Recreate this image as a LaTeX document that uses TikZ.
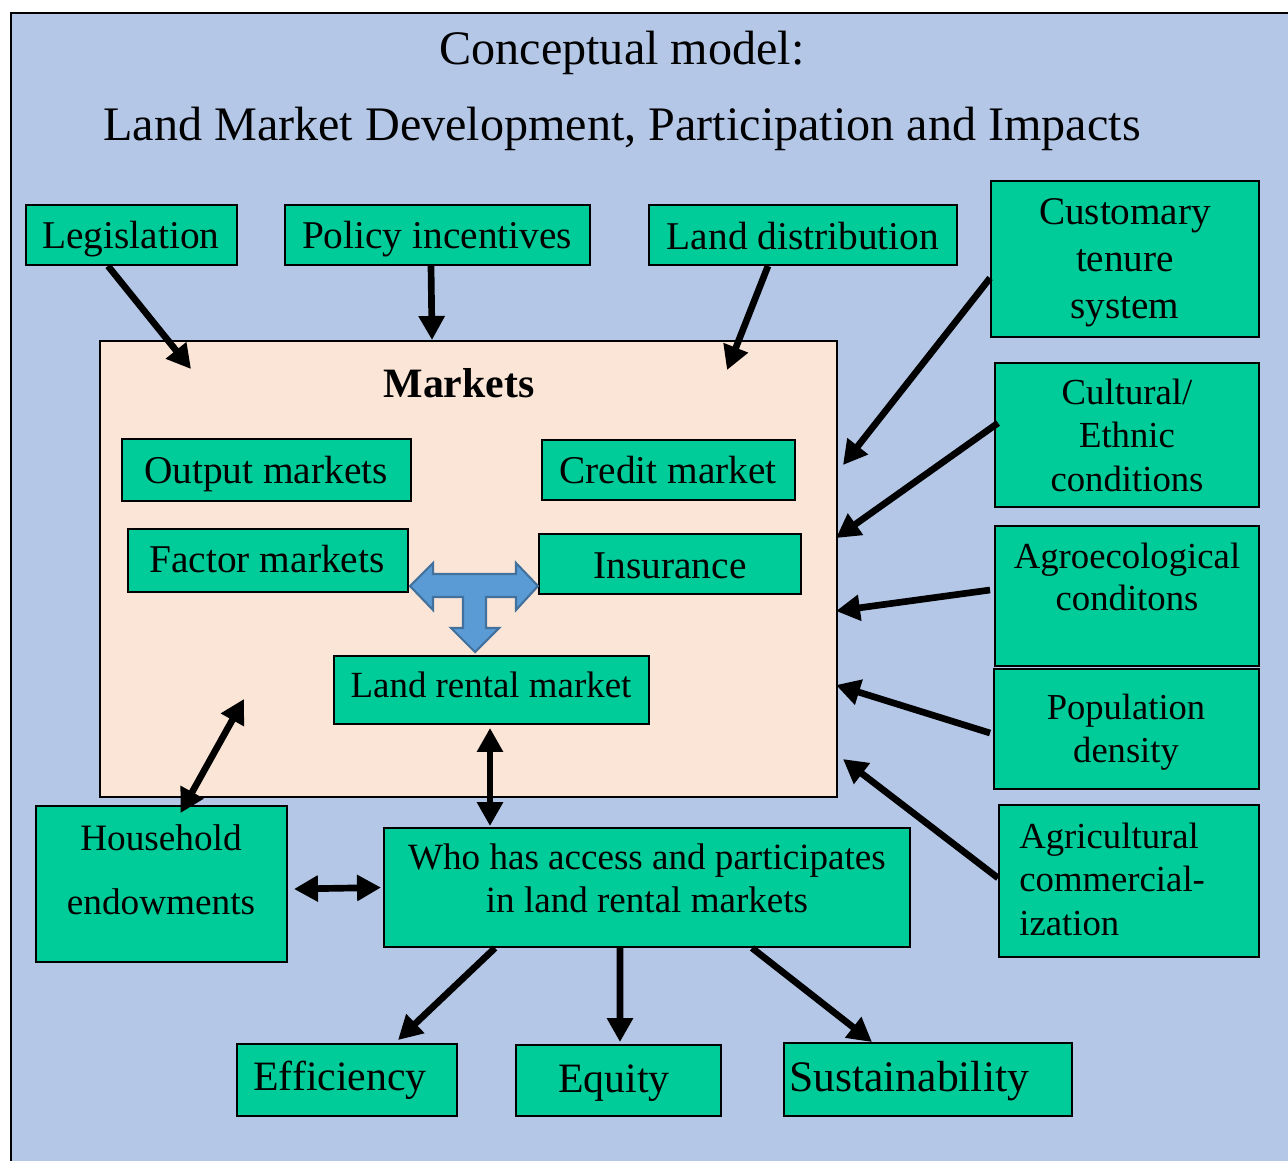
\documentclass[tikz,border=0pt]{standalone}
\usepackage{fontspec}
\setmainfont{Liberation Serif}
\usetikzlibrary{arrows.meta,calc,fit}
\definecolor{bgblue}{HTML}{B4C7E7}
\definecolor{boxgreen}{HTML}{00CC99}
\definecolor{peach}{HTML}{FBE5D6}
\definecolor{tblue}{HTML}{5B9BD5}
\definecolor{tedge}{HTML}{41719C}
\newcommand\fsz[1]{\fontsize{#1}{#1}\selectfont}
\begin{document}
\begin{tikzpicture}[x=0.02cm,y=-0.02cm,
  box/.style={draw=black, fill=boxgreen, line width=1.1pt, inner sep=0pt},
  mbox/.style={draw=black, fill=peach, line width=1.1pt, inner sep=0pt},
  lbl/.style={anchor=base, inner sep=0pt, text=black},
  lblw/.style={anchor=base west, inner sep=0pt, text=black},
  arr/.style={line width=3.8pt, -{Triangle[length=0.48cm,width=0.5cm]}},
  darr/.style={line width=3.8pt, {Triangle[length=0.48cm,width=0.5cm]}-{Triangle[length=0.48cm,width=0.5cm]}},
  tarrow/.style={fill=tblue, draw=tedge, line width=1.2pt, line join=miter}
]
\useasboundingbox (0,0) rectangle (1288,1160);
\clip (0,0) rectangle (1288,1160);
\fill[white] (0,0) rectangle (1288,1160);
\draw[fill=bgblue, line width=1.2pt] (11,13) rectangle (1310,1180);

% title
\node[lbl, font=\fsz{27.4}] (t1) at (622,64) {Conceptual model:};
\node[lbl, font=\fsz{27.4}] (t2) at (622,140) {Land Market Development, Participation and Impacts};

% markets container
\node[mbox, fit={(100,341) (837,797)}] (mk) {};
\node[lbl, font=\fsz{23.8}\bfseries] (mkT) at (459,397) {Markets};

% top boxes
\node[box, fit={(26,205) (237,265)}] (leg) {};
\node[lbl, font=\fsz{22.4}] (legT) at (131,248) {Legislation};
\node[box, fit={(285,205) (590,265)}] (pol) {};
\node[lbl, font=\fsz{22.4}] (polT) at (437,248) {Policy incentives};
\node[box, fit={(649,205) (957,265)}] (dist) {};
\node[lbl, font=\fsz{22.4}] (distT) at (803,249) {Land distribution};

% right boxes
\node[box, fit={(991,181) (1259,337)}] (cus) {};
\node[lbl, font=\fsz{22.3}] (cus1) at (1125,224) {Customary};
\node[lbl, font=\fsz{22.3}] (cus2) at (1125,271) {tenure};
\node[lbl, font=\fsz{22.3}] (cus3) at (1125,318) {system};

\node[box, fit={(995,363) (1259,507)}] (cul) {};
\node[lbl, font=\fsz{20.9}] (cul1) at (1127,404) {Cultural/};
\node[lbl, font=\fsz{20.9}] (cul2) at (1127,447) {Ethnic};
\node[lbl, font=\fsz{20.9}] (cul3) at (1127,491) {conditions};

\node[box, fit={(995,526) (1259,666)}] (agro) {};
\node[lbl, font=\fsz{20.9}] (agro1) at (1127,568) {Agroecological};
\node[lbl, font=\fsz{20.9}] (agro2) at (1127,610) {conditons};

\node[box, fit={(994,669) (1259,789)}] (pop) {};
\node[lbl, font=\fsz{20.8}] (pop1) at (1126,719) {Population};
\node[lbl, font=\fsz{20.8}] (pop2) at (1126,762) {density};

\node[box, fit={(999,805) (1259,957)}] (agr) {};
\node[lblw, font=\fsz{20.9}] (agr1) at (1019,848) {Agricultural};
\node[lblw, font=\fsz{20.9}] (agr2) at (1019,891) {commercial-};
\node[lblw, font=\fsz{20.9}] (agr3) at (1019,935) {ization};

% inner market boxes
\node[box, fit={(122,439) (411,501)}] (out) {};
\node[lbl, font=\fsz{22.4}] (outT) at (266,483) {Output markets};
\node[box, fit={(542,440) (795,500)}] (cred) {};
\node[lbl, font=\fsz{22.4}] (credT) at (668,483) {Credit market};
\node[box, fit={(128,529) (408,592)}] (fac) {};
\node[lbl, font=\fsz{22.4}] (facT) at (267,572) {Factor markets};
\node[box, fit={(539,534) (801,594)}] (ins) {};
\node[lbl, font=\fsz{22.4}] (insT) at (670,578) {Insurance};
\node[box, fit={(334,656) (649,724)}] (lrm) {};
\node[lbl, font=\fsz{21}] (lrmT) at (491,697) {Land rental market};

% blue T arrow
\draw[tarrow] (410,586) -- (433,563) -- (433,574) -- (516,574) -- (516,563)
  -- (538,586) -- (516,610) -- (516,597) -- (486,597) -- (486,628)
  -- (499,628) -- (475,652) -- (451,628) -- (463,628) -- (463,597)
  -- (433,597) -- (433,610) -- cycle;

% lower boxes
\node[box, fit={(36,806) (287,962)}] (hh) {};
\node[lbl, font=\fsz{21.2}] (hh1) at (161,850) {Household};
\node[lbl, font=\fsz{21.2}] (hh2) at (161,914) {endowments};

\node[box, fit={(384,828) (910,947)}] (who) {};
\node[lbl, font=\fsz{21.1}] (who1) at (647,869) {Who has access and participates};
\node[lbl, font=\fsz{21.1}] (who2) at (647,912) {in land rental markets};

\node[box, fit={(237,1044) (457,1116)}] (eff) {};
\node[lblw, font=\fsz{23.8}] (effT) at (253,1090) {Efficiency};
\node[box, fit={(516,1045) (721,1116)}] (equ) {};
\node[lblw, font=\fsz{23.8}] (equT) at (558,1092) {Equity};
\node[box, fit={(784,1043) (1072,1116)}] (sus) {};
\node[lblw, font=\fsz{24.8}] (susT) at (789,1091) {Sustainability};

% arrows into markets
\draw[arr] ($(leg.south)+(-23.5,0)$) -- ($(mk.north west)+(92,29)$);
\draw[arr] ($(pol.south)+(-6.5,0)$) -- ($(mk.north west)+(333,0)$);
\draw[arr] ($(dist.south)+(-35,0)$) -- ($(mk.north west)+(628,30)$);
\draw[arr] ($(cus.west)+(0,19)$) -- ($(mk.north east)+(5,125)$);
\draw[arr] ($(cul.west)+(4,-12)$) -- ($(mk.north east)+(-2,198)$);
\draw[arr] ($(agro.west)+(-4,-6)$) -- ($(mk.north east)+(-2,271)$);
\draw[arr] ($(pop.west)+(-3,4)$) -- ($(mk.north east)+(-2,345)$);
\draw[arr] ($(agr.west)+(0,-3)$) -- ($(mk.north east)+(5,419)$);

% double arrows
\draw[darr] ($(hh.north)+(19,8)$) -- ($(mk.south west)+(145,-99)$);
\draw[darr] ($(lrm.south)+(-1.5,3)$) -- ($(lrm.south |- who.north)+(-1.5,-1)$);
\draw[darr] ($(hh.east)+(6,5)$) -- ($(who.west)+(-2,0)$);

% outcomes
\draw[arr] ($(who.south)+(-152,0)$) -- ($(eff.north)+(51,-3)$);
\draw[arr] ($(who.south)+(-27,0)$) -- ($(equ.north)+(1.5,-2)$);
\draw[arr] ($(who.south)+(105,0)$) -- ($(sus.north)+(-56,0)$);
\end{tikzpicture}
\end{document}
